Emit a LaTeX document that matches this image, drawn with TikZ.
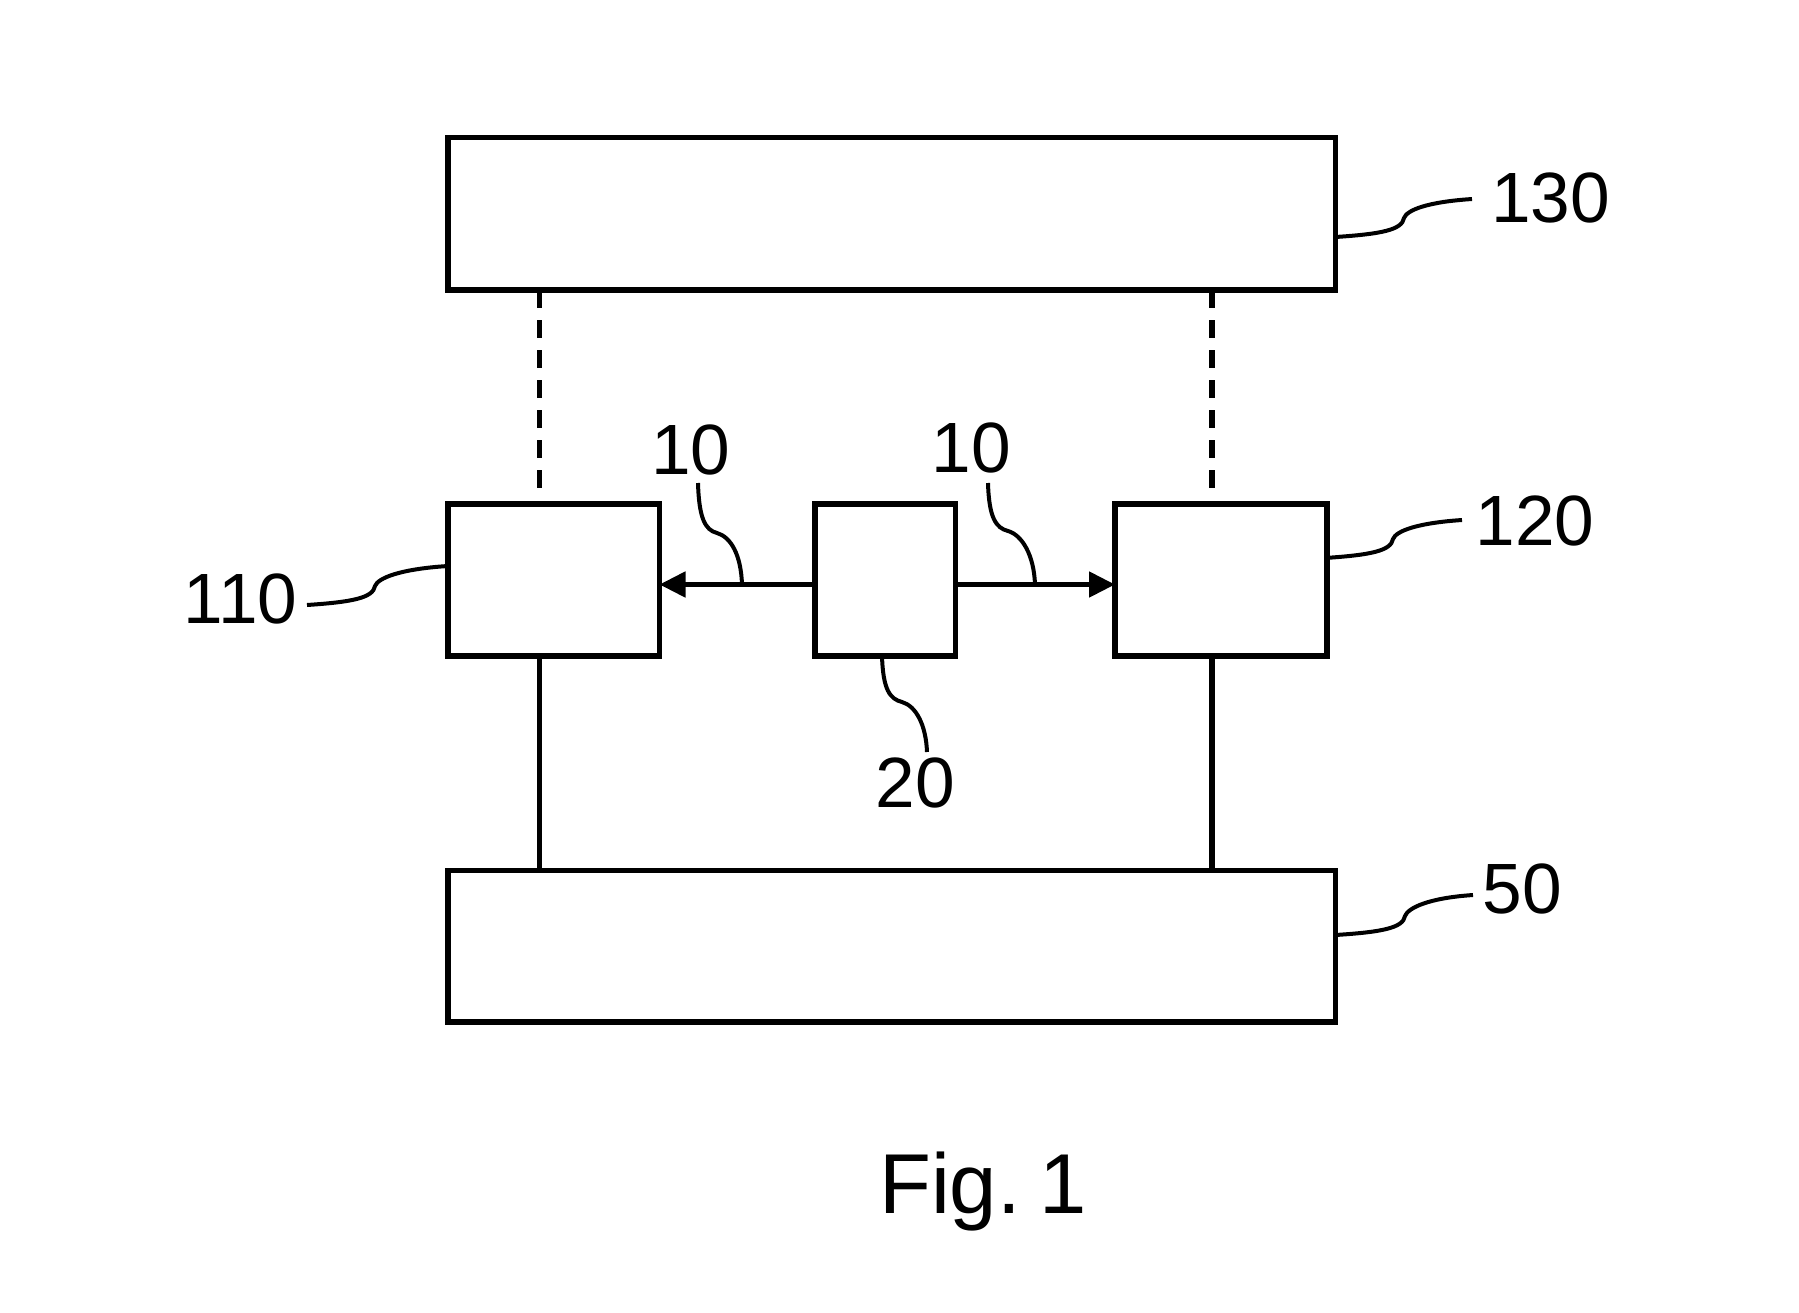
\documentclass[tikz,border=0pt]{standalone}
\usepackage{fontspec}
\setmainfont{Liberation Sans}
\usetikzlibrary{arrows.meta}
\begin{document}
\begin{tikzpicture}[x=0.5pt,y=-0.5pt,
  box/.style={draw, line width=2.8pt, rectangle, inner sep=0pt, outer sep=0pt},
  lbl/.style={font=\fontsize{35.6pt}{40pt}\selectfont, anchor=base, inner sep=0pt},
  figlbl/.style={font=\fontsize{42.5pt}{48pt}\selectfont, anchor=base, inner sep=0pt},
  leader/.style={line width=2pt},
  conn/.style={line width=2.8pt},
  dashline/.style={conn, dash pattern=on 9pt off 6pt},
  arr/.style={line width=2.5pt, -{Triangle[length=13pt,width=12.5pt]}}]

\useasboundingbox (0,0) rectangle (1799,1312);

% boxes
\node[box, minimum width=443.75pt, minimum height=76.25pt] (b130) at (891.75,213.75) {};
\node[box, minimum width=105.75pt, minimum height=75.75pt] (b110) at (553.75,580) {};
\node[box, minimum width=70.25pt, minimum height=75.75pt] (b20) at (885.25,580) {};
\node[box, minimum width=106pt, minimum height=75.75pt] (b120) at (1221,580) {};
\node[box, minimum width=443.75pt, minimum height=75.75pt] (b50) at (891.75,946.25) {};

% vertical connectors
\coordinate (cx1) at (539.5,0);
\coordinate (cx2) at (1212,0);
\draw[dashline, shorten >=8pt] (b130.south -| cx1) -- (b110.north -| cx1);
\draw[dashline, shorten >=8pt] (b130.south -| cx2) -- (b120.north -| cx2);
\draw[conn] (b110.south -| cx1) -- (b50.north -| cx1);
\draw[conn] (b120.south -| cx2) -- (b50.north -| cx2);

% arrows
\coordinate (ay) at (0,584.5);
\draw[arr] (b20.west |- ay) -- (b110.east |- ay);
\draw[arr] (b20.east |- ay) -- (b120.west |- ay);

% labels
\node[lbl] (t10a) at (691,474) {10};
\node[lbl] (t10b) at (971,472) {10};
\node[lbl] (t20) at (915.5,807) {20};
\node[lbl] (t110) at (240.5,623) {110};
\node[lbl] (t130) at (1550.5,222) {130};
\node[lbl] (t120) at (1535,545) {120};
\node[lbl] (t50) at (1522,913) {50};
\node[figlbl] (tfig) at (983,1213) {Fig.\hspace{0.22em}1};

% leader end points
\coordinate (e130) at (1472,199);
\coordinate (e120) at (1462,520);
\coordinate (e50) at (1473,895);
\coordinate (e110) at (307,605);
\coordinate (e10a) at (698,483);
\coordinate (e10b) at (988,483);
\coordinate (e20) at (927,752);

% horizontal leaders
\draw[leader] (b130.east |- 0,237) .. controls (1381,234) and (1402,230) .. (1404,218)
  .. controls (1407,210) and (1427,202) .. (e130);
\draw[leader] (1325,558) .. controls (1370,555) and (1391,551) .. (1393,539)
  .. controls (1396,531) and (1417,523) .. (e120);
\draw[leader] (b50.east |- 0,935) .. controls (1382,932) and (1403,928) .. (1405,916)
  .. controls (1408,908) and (1428,898) .. (e50);
\draw[leader] (e110) .. controls (352,602) and (373,598) .. (375,586)
  .. controls (378,578) and (400,569) .. (b110.west |- 0,566);

% vertical leaders
\draw[leader] (e10a) .. controls (699,518) and (705,530) .. (717,533)
  .. controls (731,537) and (741,555) .. (742,584.5);
\draw[leader] (e10b) .. controls (989,518) and (996,528) .. (1008,531)
  .. controls (1022,535) and (1034,555) .. (1035,584.5);
\draw[leader] (b20.south -| 882,0) .. controls (883,690) and (890,699) .. (902,702)
  .. controls (916,706) and (926,725) .. (e20);
\end{tikzpicture}
\end{document}
